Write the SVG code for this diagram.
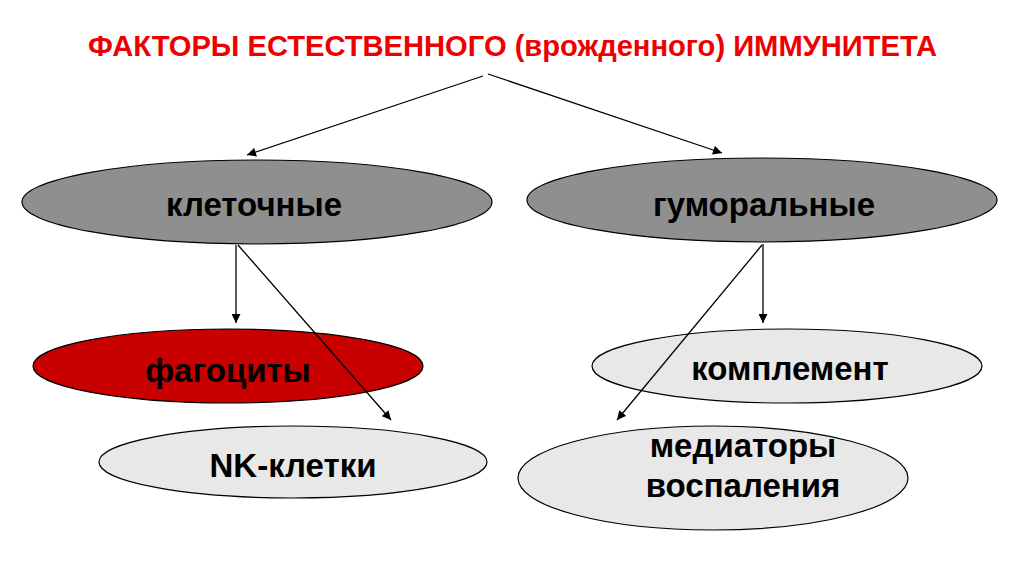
<svg xmlns="http://www.w3.org/2000/svg" width="1024" height="574" viewBox="0 0 1024 574">
<defs>
<marker id="ah" viewBox="0 0 10 10" refX="10" refY="5" markerWidth="10" markerHeight="9" markerUnits="userSpaceOnUse" orient="auto">
<path d="M0,0 L10,5 L0,10 z" fill="#000"/>
</marker>
<style>
.title{font-family:"Liberation Sans Narrow","Liberation Sans",Arial,sans-serif;font-weight:bold;font-size:29px;fill:#ee0000}
.lbl{font-family:"Liberation Sans",Arial,sans-serif;font-weight:bold;font-size:33px;fill:#000;text-anchor:middle}
.node{stroke:#000;stroke-width:1.2}
.conn line{stroke:#000;stroke-width:1.3;fill:none;marker-end:url(#ah)}
</style>
</defs>
<rect width="1024" height="574" fill="#fff"/>
<text class="title" x="88" y="56" textLength="849" lengthAdjust="spacingAndGlyphs">ФАКТОРЫ ЕСТЕСТВЕННОГО (врожденного) ИММУНИТЕТА</text>
<g id="kletochnye">
<ellipse class="node" cx="257" cy="202" rx="235" ry="42" fill="#8f8f8f"/>
<text class="lbl" x="254" y="216">клеточные</text>
</g>
<g id="gumoralnye">
<ellipse class="node" cx="762" cy="200" rx="235" ry="42" fill="#8f8f8f"/>
<text class="lbl" x="764" y="216">гуморальные</text>
</g>
<g id="fagocity">
<ellipse class="node" cx="228" cy="366" rx="195" ry="37" fill="#c80000"/>
<text class="lbl" x="228" y="382">фагоциты</text>
</g>
<g id="nk">
<ellipse class="node" cx="293" cy="462" rx="194" ry="36" fill="#e8e8e8"/>
<text class="lbl" x="293" y="477">NK-клетки</text>
</g>
<g id="komplement">
<ellipse class="node" cx="787" cy="366" rx="195" ry="37" fill="#e8e8e8"/>
<text class="lbl" x="790" y="380">комплемент</text>
</g>
<g id="mediatory">
<ellipse class="node" cx="713" cy="478" rx="195" ry="52" fill="#e8e8e8"/>
<text class="lbl" x="743" y="457">медиаторы</text>
<text class="lbl" x="743" y="497">воспаления</text>
</g>
<g id="conns" class="conn">
<line x1="483" y1="76" x2="247" y2="155"/>
<line x1="488" y1="74" x2="722" y2="153"/>
<line x1="236" y1="245" x2="236" y2="323"/>
<line x1="238" y1="245" x2="391" y2="420"/>
<line x1="763" y1="244" x2="763" y2="323"/>
<line x1="762" y1="245" x2="617" y2="420"/>
</g>
</svg>
